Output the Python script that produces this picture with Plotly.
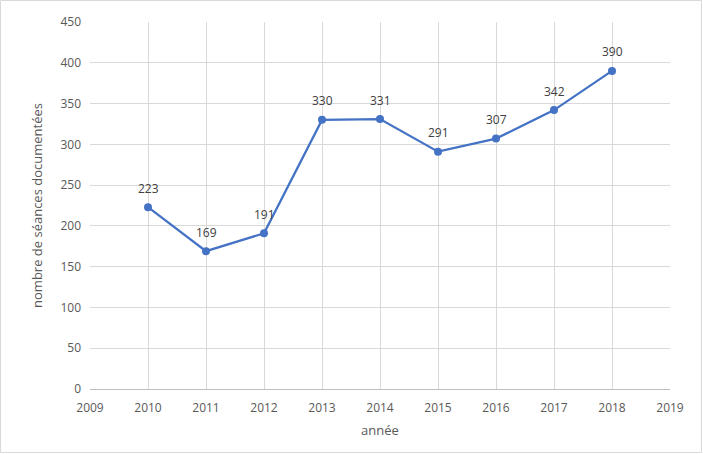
import plotly.graph_objects as go

years = [2010, 2011, 2012, 2013, 2014, 2015, 2016, 2017, 2018]
values = [223, 169, 191, 330, 331, 291, 307, 342, 390]

W, H = 703, 454
L, R, T, B = 90, 33, 22, 65
pw, ph = W - L - R, H - T - B

fig = go.Figure()
fig.add_trace(go.Scatter(
    x=years, y=values, mode="lines+markers",
    line=dict(color="#4472C4", width=2.25),
    marker=dict(color="#4472C4", size=8),
    cliponaxis=False, showlegend=False,
))

for xv, yv in zip(years, values):
    fig.add_annotation(x=xv, y=yv, text=str(yv), showarrow=False,
                       yshift=19, font=dict(size=12, color="#404040"))

def px_x(p):
    return (p - L) / pw

def px_y(p):
    return (H - B - p) / ph

fig.add_shape(type="rect", xref="paper", yref="paper",
              x0=px_x(0.5), x1=px_x(701.5), y0=px_y(452.5), y1=px_y(0.5),
              line=dict(color="#D9D9D9", width=1), layer="below")

font = "Open Sans, Liberation Sans, sans-serif"
fig.update_layout(
    width=W, height=H,
    margin=dict(l=L, r=R, t=T, b=B),
    paper_bgcolor="white", plot_bgcolor="white",
    font=dict(family=font, color="#595959", size=12),
    xaxis=dict(range=[2009, 2019], dtick=1, tick0=2009, showgrid=True,
               gridcolor="#D9D9D9", gridwidth=1, zeroline=False,
               showline=True, linecolor="#BFBFBF", linewidth=1,
               ticks="", ticklabelstandoff=8, tickfont=dict(size=12, color="#595959"),
               title=dict(text="année", font=dict(size=13, color="#595959"), standoff=10)),
    yaxis=dict(range=[0, 450], dtick=50, showgrid=True,
               gridcolor="#D9D9D9", gridwidth=1, zeroline=False,
               showline=False, ticks="", ticklabelstandoff=8,
               tickfont=dict(size=12, color="#595959"),
               title=dict(text="nombre de séances documentées", font=dict(size=13, color="#595959"), standoff=14)),
)

fig.write_html("out.html")
